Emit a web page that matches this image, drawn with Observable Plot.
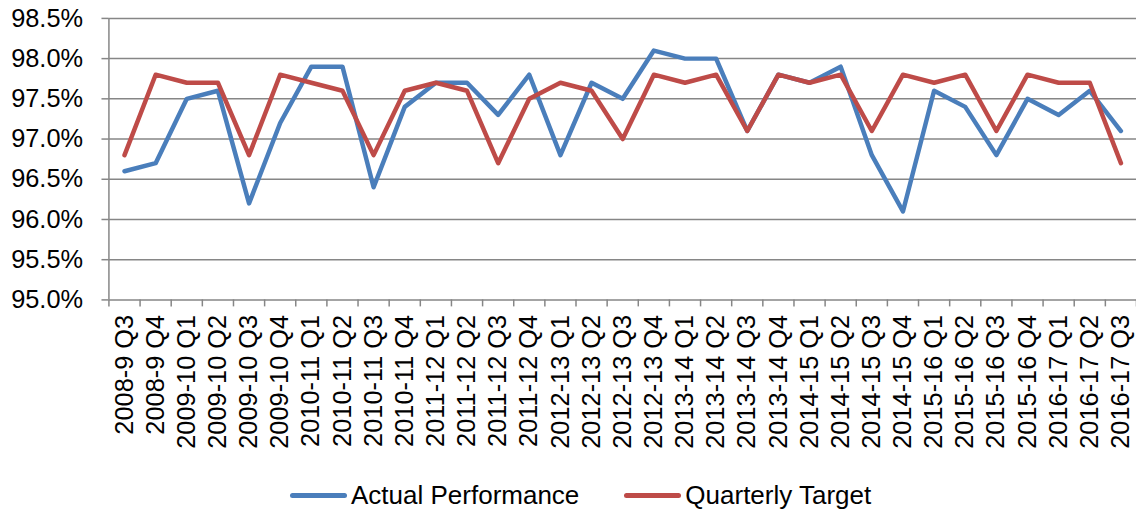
<!DOCTYPE html>
<html>
<head>
<meta charset="utf-8">
<script src="https://cdn.jsdelivr.net/npm/d3@7"></script>
<script src="https://cdn.jsdelivr.net/npm/@observablehq/plot@0.6"></script>
<style>
  html, body { margin: 0; padding: 0; background: #fff; overflow: hidden; width: 1136px; height: 512px; }
  #chart svg { display: block; }
  .legend { display: flex; align-items: center; height: 34px; margin-top: 3px; font-family: "Liberation Sans", Arial, sans-serif; font-size: 26px; color: #000; padding-left: 290px; }
  .legend .item { display: flex; align-items: center; }
  .legend .sw { width: 57px; height: 5px; border-radius: 3px; margin-right: 4px; }
  .legend .gap { width: 45px; }
</style>
</head>
<body>
<div id="chart"></div>
<div class="legend" id="legend"></div>
<script>
const categories = [
  "2008-9 Q3","2008-9 Q4",
  "2009-10 Q1","2009-10 Q2","2009-10 Q3","2009-10 Q4",
  "2010-11 Q1","2010-11 Q2","2010-11 Q3","2010-11 Q4",
  "2011-12 Q1","2011-12 Q2","2011-12 Q3","2011-12 Q4",
  "2012-13 Q1","2012-13 Q2","2012-13 Q3","2012-13 Q4",
  "2013-14 Q1","2013-14 Q2","2013-14 Q3","2013-14 Q4",
  "2014-15 Q1","2014-15 Q2","2014-15 Q3","2014-15 Q4",
  "2015-16 Q1","2015-16 Q2","2015-16 Q3","2015-16 Q4",
  "2016-17 Q1","2016-17 Q2","2016-17 Q3"
];
const actualPerformance = [
  96.6, 96.7,
  97.5, 97.6, 96.2, 97.2,
  97.9, 97.9, 96.4, 97.4,
  97.7, 97.7, 97.3, 97.8,
  96.8, 97.7, 97.5, 98.1,
  98.0, 98.0, 97.1, 97.8,
  97.7, 97.9, 96.8, 96.1,
  97.6, 97.4, 96.8, 97.5,
  97.3, 97.6, 97.1
];
const quarterlyTarget = [
  96.8, 97.8,
  97.7, 97.7, 96.8, 97.8,
  97.7, 97.6, 96.8, 97.6,
  97.7, 97.6, 96.7, 97.5,
  97.7, 97.6, 97.0, 97.8,
  97.7, 97.8, 97.1, 97.8,
  97.7, 97.8, 97.1, 97.8,
  97.7, 97.8, 97.1, 97.8,
  97.7, 97.7, 96.7
];
const seriesNames = ["Actual Performance", "Quarterly Target"];
const seriesColors = ["#4A7EBB", "#BE4B48"];
const yTicks = [95.0, 95.5, 96.0, 96.5, 97.0, 97.5, 98.0, 98.5];

const data = categories.flatMap((c, i) => [
  {i, category: c, value: actualPerformance[i], series: seriesNames[0]},
  {i, category: c, value: quarterlyTarget[i], series: seriesNames[1]}
]);
const boundaries = d3.range(categories.length + 1).map(k => k - 0.5);
const centers = d3.range(categories.length);

const chart = Plot.plot({
  width: 1142,
  height: 478,
  marginLeft: 109,
  marginRight: 0,
  marginTop: 18,
  marginBottom: 177,
  style: {fontFamily: "'Liberation Sans', Arial, sans-serif", fontSize: "25.5px", color: "#000", background: "#fff", overflow: "visible"},
  x: {type: "linear", domain: [-0.5, categories.length - 0.5], label: null},
  y: {domain: [95, 98.5], label: null},
  color: {domain: seriesNames, range: seriesColors},
  marks: [
    Plot.ruleY(yTicks, {stroke: "#868686", strokeWidth: 1.5}),
    Plot.ruleX([-0.5], {stroke: "#868686", strokeWidth: 1.5}),
    Plot.axisY({ticks: yTicks, tickFormat: d => d.toFixed(1) + "%", tickSize: 7, tickPadding: 19, stroke: "#868686", strokeWidth: 1.5, strokeOpacity: 1, fontSize: 25.5, label: null}),
    Plot.axisX({ticks: boundaries, tickFormat: () => "", tickSize: 7, stroke: "#868686", strokeWidth: 1.5, strokeOpacity: 1, label: null}),
    Plot.axisX({ticks: centers, tickFormat: i => categories[i], tickSize: 0, tickPadding: 15, tickRotate: -90, fontSize: 25.5, label: null}),
    Plot.line(data, {x: "i", y: "value", z: "series", stroke: "series", strokeWidth: 4.5, strokeLinejoin: "round", strokeLinecap: "round"})
  ]
});
document.getElementById("chart").appendChild(chart);

const legend = document.getElementById("legend");
seriesNames.forEach((name, k) => {
  if (k > 0) { const g = document.createElement("div"); g.className = "gap"; legend.appendChild(g); }
  const item = document.createElement("div");
  item.className = "item";
  const sw = document.createElement("div");
  sw.className = "sw";
  sw.style.background = seriesColors[k];
  const t = document.createElement("span");
  t.textContent = name;
  item.appendChild(sw);
  item.appendChild(t);
  legend.appendChild(item);
});
</script>
</body>
</html>
